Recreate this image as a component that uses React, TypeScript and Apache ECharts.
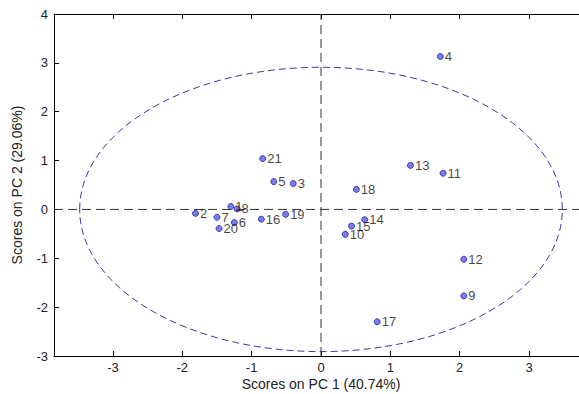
import React, { useEffect, useRef } from "react";
import * as echarts from "echarts";

const sampleLabels = ["1", "2", "3", "4", "5", "6", "7", "8", "9", "10", "11", "12", "13", "14", "15", "16", "17", "18", "19", "20", "21"];
const pc1Scores = [-1.30, -1.81, -0.40, 1.72, -0.68, -1.25, -1.50, -1.21, 2.06, 0.35, 1.76, 2.06, 1.29, 0.63, 0.44, -0.86, 0.81, 0.51, -0.51, -1.47, -0.84];
const pc2Scores = [0.06, -0.08, 0.53, 3.13, 0.57, -0.27, -0.16, 0.01, -1.77, -0.51, 0.74, -1.02, 0.90, -0.21, -0.34, -0.20, -2.30, 0.41, -0.10, -0.39, 1.04];
const ellipseLimit = [0, 0, 3.48, 2.91]; // center x, center y, semi-axis x, semi-axis y
const xRange = [-3.85, 3.85];
const yRange = [-3, 4];
const xTickValues = [-3, -2, -1, 0, 1, 2, 3];
const xTitle = "Scores on PC 1 (40.74%)";
const yTitle = "Scores on PC 2 (29.06%)";

const FONT = "Liberation Sans, Arial, sans-serif";

export default function App() {
  const ref = useRef<HTMLDivElement>(null);
  useEffect(() => {
    if (!ref.current) return;
    const chart = echarts.init(ref.current, null, { renderer: "svg" });
    const points = pc1Scores.map((x, i) => [x, pc2Scores[i], sampleLabels[i]]);
    const axisCommon = {
      type: "value" as const,
      axisLine: { show: true, onZero: false, lineStyle: { color: "#000", width: 1 } },
      axisTick: { show: true, inside: true, length: 5, lineStyle: { color: "#000" } },
      splitLine: { show: false },
    };
    const refLineStyle = { type: [9, 5], color: "#333", width: 1 };
    chart.setOption({
      animation: false,
      backgroundColor: "#fff",
      textStyle: { fontFamily: FONT },
      grid: { left: 54, top: 14, right: -9, bottom: 38, containLabel: false, outerBoundsMode: "none" },
      xAxis: [
        {
          ...axisCommon,
          position: "bottom",
          min: xRange[0],
          max: xRange[1],
          axisTick: { ...axisCommon.axisTick, customValues: xTickValues },
          axisLabel: { customValues: xTickValues, color: "#222", fontSize: 13, margin: 4, lineHeight: 14, fontFamily: FONT },
          name: xTitle,
          nameLocation: "middle",
          nameGap: 20,
          nameMoveOverlap: false,
          nameTextStyle: { color: "#222", fontSize: 14, lineHeight: 15, fontFamily: FONT },
        },
        {
          ...axisCommon,
          position: "top",
          min: xRange[0],
          max: xRange[1],
          axisTick: { ...axisCommon.axisTick, customValues: xTickValues },
          axisLabel: { show: false },
        },
      ],
      yAxis: [
        {
          ...axisCommon,
          position: "left",
          min: yRange[0],
          max: yRange[1],
          interval: 1,
          axisLabel: { color: "#222", fontSize: 13, margin: 6, fontFamily: FONT },
          name: yTitle,
          nameLocation: "middle",
          nameGap: 30,
          nameMoveOverlap: false,
          nameRotate: 90,
          nameTextStyle: { color: "#222", fontSize: 14, fontFamily: FONT },
        },
      ],
      series: [
        {
          type: "line",
          silent: true,
          symbol: "none",
          data: [[0, yRange[0]], [0, yRange[1]]],
          lineStyle: refLineStyle,
          z: 1,
        },
        {
          type: "line",
          silent: true,
          symbol: "none",
          data: [[xRange[0], 0], [xRange[1], 0]],
          lineStyle: refLineStyle,
          z: 1,
        },
        {
          type: "custom",
          xAxisIndex: 0,
          yAxisIndex: 0,
          silent: true,
          clip: true,
          data: [ellipseLimit],
          renderItem: (params: any, api: any) => {
            const c = api.coord([api.value(0), api.value(1)]);
            const s = api.size([api.value(2), api.value(3)]);
            return {
              type: "ellipse",
              shape: { cx: c[0], cy: c[1], rx: s[0], ry: s[1] },
              style: { fill: "none", stroke: "#3a3aa8", lineWidth: 1, lineDash: [7, 4] },
            };
          },
          z: 1,
        },
        {
          type: "scatter",
          xAxisIndex: 0,
          yAxisIndex: 0,
          data: points,
          symbol: "circle",
          symbolSize: 6,
          itemStyle: { color: "#5a5af0", borderColor: "#20208a", borderWidth: 1 },
          label: {
            show: true,
            position: "right",
            distance: 1,
            formatter: (p: any) => p.data[2],
            color: "#111",
            fontSize: 13,
            fontFamily: FONT,
          },
          z: 3,
        },
      ],
    });
    return () => chart.dispose();
  }, []);
  return <div ref={ref} style={{ position: "fixed", left: 0, top: 0, width: 579, height: 394 }} />;
}
